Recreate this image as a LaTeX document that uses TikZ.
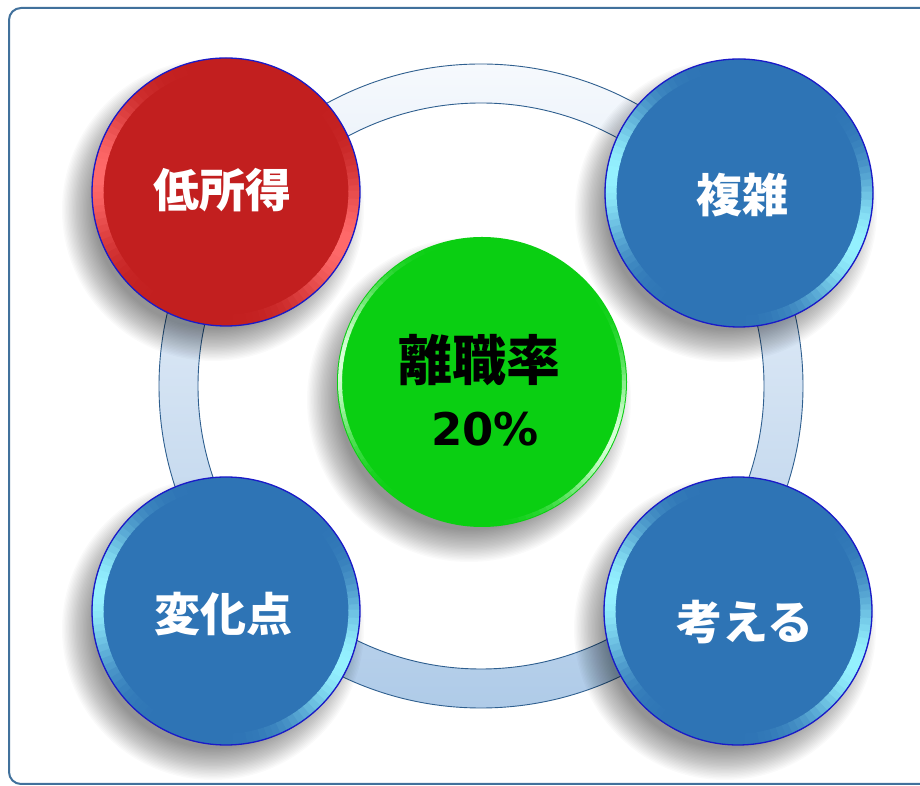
\documentclass[tikz,border=0pt]{standalone}
\usepackage{fontspec}
\newfontfamily\jp{Noto Sans CJK JP}
\newfontfamily\dv{DejaVu Sans}
\definecolor{frameblue}{HTML}{41719C}
\definecolor{ringtop}{HTML}{F6F9FD}
\definecolor{ringbot}{HTML}{AFCBE8}
\definecolor{ringline}{HTML}{2F5F8F}
\definecolor{redmain}{HTML}{C21F1F}
\definecolor{redhl}{HTML}{FF6A6A}
\definecolor{bluemain}{HTML}{2E74B5}
\definecolor{bluehl}{HTML}{95F2FF}
\definecolor{greenmain}{HTML}{0ACF12}
\definecolor{greenhl}{HTML}{D8FFD8}
\definecolor{edgeblue}{HTML}{1A1AC8}
\tikzset{
  disc/.style={circle, inner sep=0pt, minimum size=#1},
  shadowlayer/.style={fill=black, opacity=0.02},
  lbl/.style={text=white, inner sep=0pt, font=\jp\bfseries\fontsize{46}{50}\selectfont},
  clbl/.style={text=black, inner sep=0pt},
}
\newcommand\softshadow[2]{%
  \begin{scope}[shift={(#1)}]
  \foreach \k in {0,...,23}{
    \fill[shadowlayer] (-13,-18) circle[radius={#2+17-1.4*\k}];
  }
  \end{scope}}
\newcommand\bevelrim[5]{%
  \begin{scope}[shift={(#1.center)}]
  \foreach \a in {0,3,...,357}{
    \pgfmathtruncatemacro\p{min(100,100*(max(0,cos(\a-170))^6+max(0,cos(\a-335))^6))}
    \draw[draw={#4!\p!#3}, line width=#5] (\a:#2) arc[start angle=\a, end angle=\a+3.6, radius=#2];
  }
  \end{scope}}
\begin{document}
\begin{tikzpicture}[x=1pt,y=1pt]
\useasboundingbox (0,0) rectangle (920,786);
\fill[white] (0,0) rectangle (920,786);
\draw[frameblue, line width=2pt, rounded corners=12pt] (9,2) rectangle (940,778);
\coordinate (rc) at (481,400);
\shade[top color=ringtop, bottom color=ringbot, even odd rule] (rc) circle[radius=322] (rc) circle[radius=283];
\draw[ringline, line width=0.9pt] (rc) circle[radius=322] (rc) circle[radius=283];
% centres
\coordinate (plow) at (226,594);
\coordinate (pcmp) at (739,593);
\coordinate (pchg) at (226,175);
\coordinate (pthk) at (738,175);
\coordinate (pctr) at (482,404);
% circles
\softshadow{plow}{134}
\node[disc=268pt, fill=redmain] (low) at (plow) {};
\bevelrim{low}{128pt}{redmain}{redhl}{11pt}
\draw[edgeblue, line width=1.3pt] (low) circle[radius=134pt];
\softshadow{pcmp}{134}
\node[disc=268pt, fill=bluemain] (cmp) at (pcmp) {};
\bevelrim{cmp}{128pt}{bluemain}{bluehl}{11pt}
\draw[edgeblue, line width=1.3pt] (cmp) circle[radius=134pt];
\softshadow{pchg}{134}
\node[disc=268pt, fill=bluemain] (chg) at (pchg) {};
\bevelrim{chg}{128pt}{bluemain}{bluehl}{11pt}
\draw[edgeblue, line width=1.3pt] (chg) circle[radius=134pt];
\softshadow{pthk}{134}
\node[disc=268pt, fill=bluemain] (thk) at (pthk) {};
\bevelrim{thk}{128pt}{bluemain}{bluehl}{11pt}
\draw[edgeblue, line width=1.3pt] (thk) circle[radius=134pt];
\softshadow{pctr}{145}
\node[disc=290pt, fill=greenmain] (ctr) at (pctr) {};
\bevelrim{ctr}{142pt}{greenmain}{greenhl}{4pt}
% labels
\node[lbl] (tlow) at (222,596) {低所得};
\node[lbl] (tcmp) at (742,591) {複雑};
\node[lbl] (tchg) at (223,172) {変化点};
\node[lbl] (tthk) at (745,164) {考える};
\node[clbl, font=\jp\bfseries\fontsize{54}{58}\selectfont] (tctr) at (479,426) {離職率};
\node[clbl, font=\dv\bfseries\fontsize{45}{50}\selectfont] (tpct) at (485,357) {20\%};
\end{tikzpicture}
\end{document}
